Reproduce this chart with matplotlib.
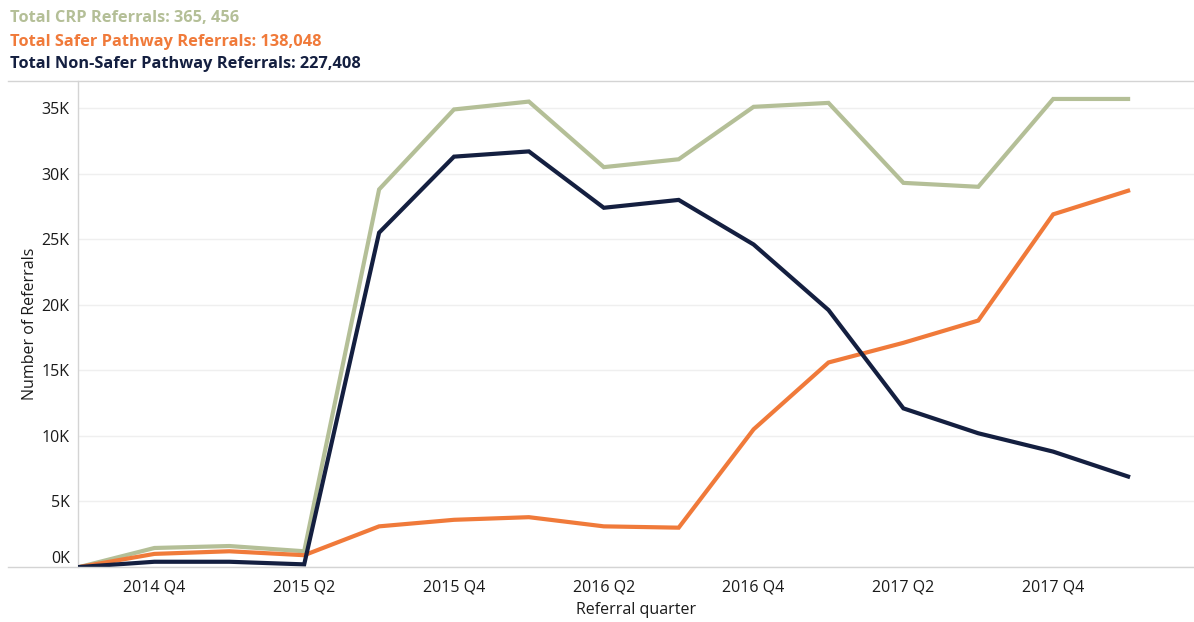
import numpy as np
import matplotlib.pyplot as plt
from matplotlib.lines import Line2D

# quarterly referral counts, 2014 Q3 .. 2018 Q1
quarters = ['2014 Q3', '2014 Q4', '2015 Q1', '2015 Q2', '2015 Q3', '2015 Q4',
            '2016 Q1', '2016 Q2', '2016 Q3', '2016 Q4', '2017 Q1', '2017 Q2',
            '2017 Q3', '2017 Q4', '2018 Q1']
crp_total = [0, 1450, 1600, 1200, 28800, 34900, 35500, 30500, 31100,
             35100, 35400, 29300, 29000, 35700, 35700]
safer = [0, 1000, 1200, 900, 3100, 3600, 3800, 3100, 3000,
         10500, 15600, 17100, 18800, 26900, 28700]
non_safer = [0, 400, 400, 200, 25500, 31300, 31700, 27400, 28000,
             24600, 19600, 12100, 10200, 8800, 6900]
shown_ticks = ['2014 Q4', '2015 Q2', '2015 Q4', '2016 Q2', '2016 Q4', '2017 Q2', '2017 Q4']
y_ticks = [0, 5000, 10000, 15000, 20000, 25000, 30000, 35000]

green = '#b4bf97'
orange = '#f07a3a'
navy = '#141f40'
grid_c = '#efefef'
spine_c = '#d4d4d4'
text_c = '#1a1a1a'

plt.rcParams['font.family'] = ['Open Sans', 'DejaVu Sans']

fig = plt.figure(figsize=(11.94, 6.22), dpi=100)
ax = fig.add_axes([78 / 1194, 55 / 622, 1 - 78 / 1194, 486 / 622])

x = np.arange(len(quarters))
ax.plot(x, crp_total, color=green, lw=3, solid_joinstyle='miter', zorder=3)
ax.plot(x, safer, color=orange, lw=3, solid_joinstyle='miter', zorder=4)
ax.plot(x, non_safer, color=navy, lw=3, solid_joinstyle='miter', zorder=5)

ax.set_xlim(-0.02, 14.88)
ax.set_ylim(0, 37070)

ax.set_xticks([quarters.index(q) for q in shown_ticks])
ax.set_xticklabels(shown_ticks, fontsize=11.5, color=text_c)
ax.set_yticks(y_ticks)
ylabels = ax.set_yticklabels([f'{v // 1000}K' for v in y_ticks], fontsize=11.5, color=text_c)
ylabels[0].set_verticalalignment('bottom')
ax.tick_params(axis='both', length=0, pad=6)
ax.tick_params(axis='x', pad=9)
ax.grid(axis='y', color=grid_c, lw=1)
ax.set_axisbelow(True)

for s in ['top', 'right', 'bottom']:
    ax.spines[s].set_visible(False)
ax.spines['left'].set_color(spine_c)
ax.spines['left'].set_linewidth(1)

ax.set_ylabel('Number of Referrals', fontsize=11.5, color=text_c, labelpad=3)
ax.set_xlabel('Referral quarter', fontsize=11.5, color=text_c, labelpad=5)

# full-width frame lines above and below the plot
fig.add_artist(Line2D([8 / 1194, 1], [541 / 622, 541 / 622], color=spine_c, lw=1))
fig.add_artist(Line2D([8 / 1194, 1], [55 / 622, 55 / 622], color=spine_c, lw=1))

fig.text(10 / 1194, 1 - 18 / 622, 'Total CRP Referrals: 365, 456', color=green,
         fontsize=11.8, fontweight='bold', va='center')
fig.text(10 / 1194, 1 - 42 / 622, 'Total Safer Pathway Referrals: 138,048', color=orange,
         fontsize=11.8, fontweight='bold', va='center')
fig.text(10 / 1194, 1 - 64 / 622, 'Total Non-Safer Pathway Referrals: 227,408', color=navy,
         fontsize=11.8, fontweight='bold', va='center')

fig.savefig('out.png', dpi=100)
